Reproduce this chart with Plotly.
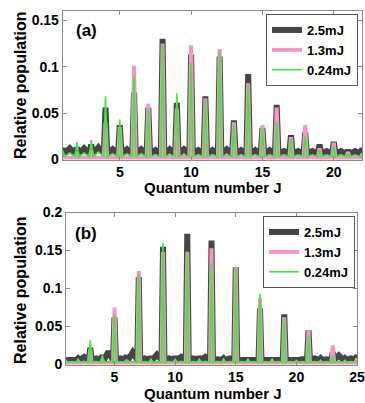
import plotly.graph_objects as go

# ---------------- data ----------------
series_names = ["2.5mJ", "1.3mJ", "0.24mJ"]

# panel (a)
J_a = list(range(1, 23))
dark_a = [0.012, 0.013, 0.016, 0.056, 0.037, 0.072, 0.056, 0.130, 0.061, 0.113, 0.068,
          0.111, 0.042, 0.092, 0.034, 0.059, 0.026, 0.029, 0.016, 0.019, 0.010, 0.012]
pink_a = [0.006, 0.008, 0.010, 0.040, 0.035, 0.101, 0.060, 0.125, 0.055, 0.123, 0.066,
          0.119, 0.040, 0.082, 0.037, 0.056, 0.024, 0.037, 0.012, 0.018, 0.008, 0.006]
green_a = [0.010, 0.019, 0.021, 0.068, 0.043, 0.090, 0.055, 0.124, 0.071, 0.104, 0.065,
           0.117, 0.038, 0.081, 0.034, 0.041, 0.022, 0.025, 0.010, 0.015, 0.006, 0.005]
# baseline between neighbouring peaks (at J-0.5 ... last J+0.5)
gap_dark_a = [0.010, 0.012, 0.012, 0.013, 0.011, 0.011, 0.011, 0.010, 0.011, 0.011, 0.010, 0.010,
              0.011, 0.010, 0.010, 0.010, 0.009, 0.009, 0.009, 0.009, 0.009, 0.009, 0.009]
gap_pink_a = [0.002] * 23
gap_green_a = [0.006, 0.007, 0.007, 0.008, 0.006, 0.006, 0.006, 0.005, 0.005, 0.005, 0.005, 0.005,
               0.005, 0.005, 0.005, 0.005, 0.005, 0.005, 0.005, 0.005, 0.005, 0.005, 0.005]

# panel (b)
J_b = list(range(1, 26))
dark_b = [0.006, 0.008, 0.022, 0.012, 0.062, 0.012, 0.115, 0.010, 0.155, 0.010, 0.172, 0.010,
          0.163, 0.008, 0.128, 0.007, 0.074, 0.006, 0.066, 0.005, 0.045, 0.008, 0.016, 0.008, 0.012]
pink_b = [0.003, 0.004, 0.020, 0.006, 0.075, 0.005, 0.123, 0.004, 0.148, 0.004, 0.148, 0.004,
          0.153, 0.004, 0.128, 0.004, 0.087, 0.004, 0.062, 0.003, 0.045, 0.003, 0.025, 0.003, 0.008]
green_b = [0.005, 0.006, 0.032, 0.012, 0.066, 0.006, 0.118, 0.006, 0.160, 0.006, 0.149, 0.005,
           0.133, 0.005, 0.129, 0.005, 0.093, 0.004, 0.060, 0.004, 0.038, 0.004, 0.012, 0.004, 0.005]
gap_dark_b = [0.004, 0.006, 0.010, 0.008, 0.017, 0.008, 0.016, 0.008, 0.013, 0.008, 0.010, 0.008, 0.010,
              0.007, 0.008, 0.006, 0.007, 0.006, 0.006, 0.006, 0.007, 0.008, 0.007, 0.012, 0.008, 0.006]
gap_pink_b = [0.002] * 26
gap_green_b = [0.004] * 26

foot_vals = [0.006, 0.001, 0.003]  # level right at the foot of each peak

xticks_a = [5, 10, 15, 20]
yticks_a = [0, 0.05, 0.1, 0.15]
yticktext_a = ["0", "0.05", "0.1", "0.15"]
xticks_b = [5, 10, 15, 20, 25]
yticks_b = [0, 0.05, 0.1, 0.15, 0.2]
yticktext_b = ["0", "0.05", "0.1", "0.15", "0.2"]

# ---------------- style ----------------
colors = ["#454545", "#f397c5", "#3fe63f"]
widths = [6, 4, 1.6]
FONT = "Liberation Sans, Arial, sans-serif"
AXC = "#8a8a8a"


def spectrum(J, peaks, gaps, foot):
    xs, ys = [], []
    for i, j in enumerate(J):
        xs += [j - 0.5, j - 0.12, j, j + 0.12]
        ys += [gaps[i], foot, peaks[i], foot]
    xs.append(J[-1] + 0.5)
    ys.append(gaps[-1])
    return xs, ys


fig = go.Figure()

panel_a = [(dark_a, gap_dark_a), (pink_a, gap_pink_a), (green_a, gap_green_a)]
panel_b = [(dark_b, gap_dark_b), (pink_b, gap_pink_b), (green_b, gap_green_b)]

for k, (pk, gp) in enumerate(panel_a):
    xs, ys = spectrum(J_a, pk, gp, foot_vals[k])
    fig.add_trace(go.Scatter(x=xs, y=ys, mode="lines", name=series_names[k],
                             line=dict(color=colors[k], width=widths[k]),
                             xaxis="x", yaxis="y", legend="legend"))
for k, (pk, gp) in enumerate(panel_b):
    xs, ys = spectrum(J_b, pk, gp, foot_vals[k])
    fig.add_trace(go.Scatter(x=xs, y=ys, mode="lines", name=series_names[k],
                             line=dict(color=colors[k], width=widths[k]),
                             xaxis="x2", yaxis="y2", legend="legend2"))

W, H = 365, 403
tickfont = dict(family=FONT, size=14, color="black", weight="bold")
axis_common = dict(showline=True, linecolor=AXC, linewidth=1, mirror="ticks",
                   ticks="inside", ticklen=4, tickcolor=AXC, showgrid=False,
                   zeroline=False, tickfont=tickfont, automargin=False)

fig.update_layout(
    width=W, height=H,
    margin=dict(l=0, r=0, t=0, b=0, autoexpand=False),
    paper_bgcolor="white", plot_bgcolor="white",
    showlegend=True,
    xaxis=dict(domain=[62.7 / W, 362.3 / W], range=[1, 22], anchor="y",
               tickvals=xticks_a, **axis_common),
    yaxis=dict(domain=[1 - 159.5 / H, 1 - 11 / H], range=[0, 0.16], anchor="x",
               tickvals=yticks_a, ticktext=yticktext_a, **axis_common),
    xaxis2=dict(domain=[66 / W, 357 / W], range=[1, 25], anchor="y2",
                tickvals=xticks_b, **axis_common),
    yaxis2=dict(domain=[1 - 364.5 / H, 1 - 212.5 / H], range=[0, 0.2], anchor="x2",
                tickvals=yticks_b, ticktext=yticktext_b, **axis_common),
    legend=dict(x=358 / W, y=1 - 14 / H, xanchor="right", yanchor="top",
                bgcolor="white", bordercolor="#555555", borderwidth=1,
                font=dict(family=FONT, size=13, color="black", weight="bold"),
                itemwidth=30, tracegroupgap=0),
    legend2=dict(x=355 / W, y=1 - 216 / H, xanchor="right", yanchor="top",
                 bgcolor="white", bordercolor="#555555", borderwidth=1,
                 font=dict(family=FONT, size=13, color="black", weight="bold"),
                 itemwidth=30, tracegroupgap=0),
)


def ann(text, px, py, size=16, angle=0):
    fig.add_annotation(text=text, x=px / W, y=1 - py / H, xref="paper", yref="paper",
                       xanchor="center", yanchor="middle", showarrow=False, textangle=angle,
                       font=dict(family=FONT, size=size, color="black", weight="bold"))


ann("(a)", 86, 30, 17)
ann("(b)", 86, 233, 17)
ann("Relative population", 20, 85, 16, -90)
ann("Relative population", 20, 290, 16, -90)
ann("Quantum number J", 213, 188, 15)
ann("Quantum number J", 213, 393, 15)

fig.write_html("out.html", config={"displayModeBar": False},
               post_script="document.body.style.margin='0';")
